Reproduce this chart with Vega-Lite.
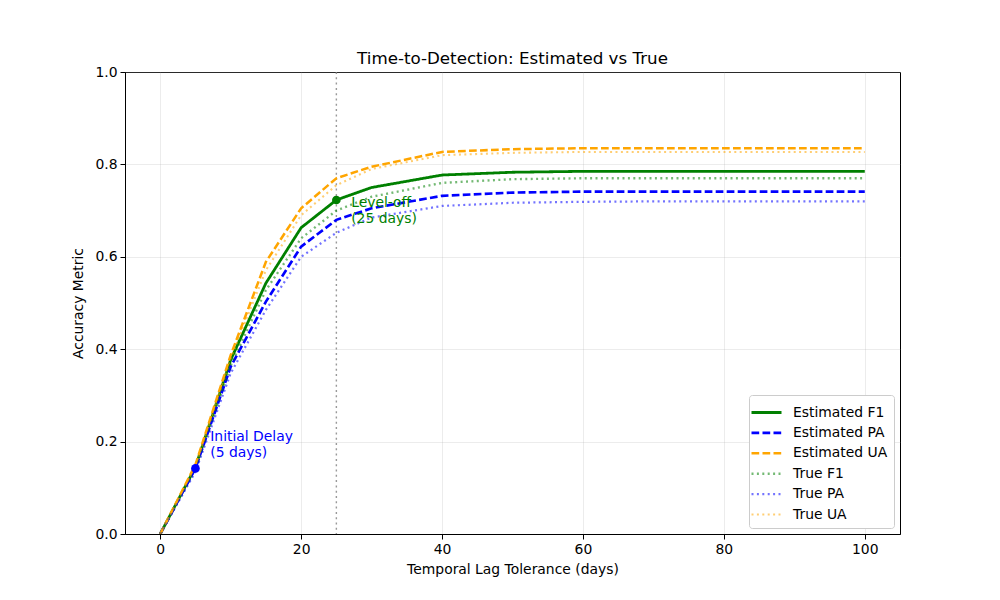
{
  "$schema": "https://vega.github.io/schema/vega-lite/v6.json",
  "autosize": {"type": "none"},
  "width": 775,
  "height": 462,
  "padding": {"left": 125, "top": 72, "right": 100, "bottom": 66},
  "background": "white",
  "config": {
    "font": "DejaVu Sans",
    "view": {"stroke": "black", "strokeWidth": 1},
    "axis": {
      "labelFont": "DejaVu Sans",
      "titleFont": "DejaVu Sans",
      "labelFontSize": 13.9,
      "titleFontSize": 13.9,
      "labelColor": "black",
      "titleColor": "black",
      "titleFontWeight": "normal",
      "domainColor": "black",
      "tickColor": "black",
      "tickSize": 5,
      "gridColor": "#b0b0b0",
      "gridOpacity": 0.3,
      "gridWidth": 0.8,
      "labelPadding": 3
    }
  },
  "title": {
    "text": "Time-to-Detection: Estimated vs True",
    "fontSize": 16.7,
    "fontWeight": "normal",
    "font": "DejaVu Sans",
    "color": "black",
    "offset": -3
  },
  "datasets": {
    "curves": [
      {"lag": 0, "series": "Estimated F1", "value": 0.0},
      {"lag": 5, "series": "Estimated F1", "value": 0.145},
      {"lag": 10, "series": "Estimated F1", "value": 0.377},
      {"lag": 15, "series": "Estimated F1", "value": 0.543},
      {"lag": 20, "series": "Estimated F1", "value": 0.663},
      {"lag": 25, "series": "Estimated F1", "value": 0.723},
      {"lag": 30, "series": "Estimated F1", "value": 0.750},
      {"lag": 40, "series": "Estimated F1", "value": 0.777},
      {"lag": 50, "series": "Estimated F1", "value": 0.783},
      {"lag": 60, "series": "Estimated F1", "value": 0.785},
      {"lag": 70, "series": "Estimated F1", "value": 0.785},
      {"lag": 80, "series": "Estimated F1", "value": 0.785},
      {"lag": 90, "series": "Estimated F1", "value": 0.785},
      {"lag": 100, "series": "Estimated F1", "value": 0.785},

      {"lag": 0, "series": "Estimated PA", "value": 0.0},
      {"lag": 5, "series": "Estimated PA", "value": 0.142},
      {"lag": 10, "series": "Estimated PA", "value": 0.362},
      {"lag": 15, "series": "Estimated PA", "value": 0.503},
      {"lag": 20, "series": "Estimated PA", "value": 0.622},
      {"lag": 25, "series": "Estimated PA", "value": 0.680},
      {"lag": 30, "series": "Estimated PA", "value": 0.705},
      {"lag": 40, "series": "Estimated PA", "value": 0.732},
      {"lag": 50, "series": "Estimated PA", "value": 0.739},
      {"lag": 60, "series": "Estimated PA", "value": 0.741},
      {"lag": 70, "series": "Estimated PA", "value": 0.741},
      {"lag": 80, "series": "Estimated PA", "value": 0.741},
      {"lag": 90, "series": "Estimated PA", "value": 0.741},
      {"lag": 100, "series": "Estimated PA", "value": 0.741},

      {"lag": 0, "series": "Estimated UA", "value": 0.0},
      {"lag": 5, "series": "Estimated UA", "value": 0.150},
      {"lag": 10, "series": "Estimated UA", "value": 0.387},
      {"lag": 15, "series": "Estimated UA", "value": 0.589},
      {"lag": 20, "series": "Estimated UA", "value": 0.705},
      {"lag": 25, "series": "Estimated UA", "value": 0.770},
      {"lag": 30, "series": "Estimated UA", "value": 0.795},
      {"lag": 40, "series": "Estimated UA", "value": 0.827},
      {"lag": 50, "series": "Estimated UA", "value": 0.833},
      {"lag": 60, "series": "Estimated UA", "value": 0.835},
      {"lag": 70, "series": "Estimated UA", "value": 0.835},
      {"lag": 80, "series": "Estimated UA", "value": 0.835},
      {"lag": 90, "series": "Estimated UA", "value": 0.835},
      {"lag": 100, "series": "Estimated UA", "value": 0.835},

      {"lag": 0, "series": "True F1", "value": 0.0},
      {"lag": 5, "series": "True F1", "value": 0.140},
      {"lag": 10, "series": "True F1", "value": 0.365},
      {"lag": 15, "series": "True F1", "value": 0.528},
      {"lag": 20, "series": "True F1", "value": 0.640},
      {"lag": 25, "series": "True F1", "value": 0.700},
      {"lag": 30, "series": "True F1", "value": 0.730},
      {"lag": 40, "series": "True F1", "value": 0.760},
      {"lag": 50, "series": "True F1", "value": 0.768},
      {"lag": 60, "series": "True F1", "value": 0.770},
      {"lag": 70, "series": "True F1", "value": 0.770},
      {"lag": 80, "series": "True F1", "value": 0.770},
      {"lag": 90, "series": "True F1", "value": 0.770},
      {"lag": 100, "series": "True F1", "value": 0.770},

      {"lag": 0, "series": "True PA", "value": 0.0},
      {"lag": 5, "series": "True PA", "value": 0.135},
      {"lag": 10, "series": "True PA", "value": 0.348},
      {"lag": 15, "series": "True PA", "value": 0.485},
      {"lag": 20, "series": "True PA", "value": 0.600},
      {"lag": 25, "series": "True PA", "value": 0.652},
      {"lag": 30, "series": "True PA", "value": 0.685},
      {"lag": 40, "series": "True PA", "value": 0.710},
      {"lag": 50, "series": "True PA", "value": 0.717},
      {"lag": 60, "series": "True PA", "value": 0.719},
      {"lag": 70, "series": "True PA", "value": 0.720},
      {"lag": 80, "series": "True PA", "value": 0.720},
      {"lag": 90, "series": "True PA", "value": 0.720},
      {"lag": 100, "series": "True PA", "value": 0.720},

      {"lag": 0, "series": "True UA", "value": 0.0},
      {"lag": 5, "series": "True UA", "value": 0.148},
      {"lag": 10, "series": "True UA", "value": 0.380},
      {"lag": 15, "series": "True UA", "value": 0.571},
      {"lag": 20, "series": "True UA", "value": 0.690},
      {"lag": 25, "series": "True UA", "value": 0.755},
      {"lag": 30, "series": "True UA", "value": 0.790},
      {"lag": 40, "series": "True UA", "value": 0.820},
      {"lag": 50, "series": "True UA", "value": 0.825},
      {"lag": 60, "series": "True UA", "value": 0.827},
      {"lag": 70, "series": "True UA", "value": 0.827},
      {"lag": 80, "series": "True UA", "value": 0.827},
      {"lag": 90, "series": "True UA", "value": 0.827},
      {"lag": 100, "series": "True UA", "value": 0.827}
    ],
    "markers": [
      {"lag": 5, "value": 0.142, "kind": "Initial Delay", "label": "Initial Delay\n(5 days)", "lagText": 7.1, "valueText": 0.226},
      {"lag": 25, "value": 0.723, "kind": "Level-off", "label": "Level-off\n(25 days)", "lagText": 27.1, "valueText": 0.732}
    ],
    "cutoff": [{"lag": 25}]
  },
  "layer": [
    {
      "data": {"name": "cutoff"},
      "mark": {"type": "rule", "color": "gray", "strokeWidth": 1.4, "strokeDash": [2, 3.3], "opacity": 0.8},
      "encoding": {
        "x": {"field": "lag", "type": "quantitative", "scale": {"domain": [-5, 105]}}
      }
    },
    {
      "data": {"name": "curves"},
      "mark": {"type": "line", "clip": true},
      "encoding": {
        "x": {
          "field": "lag",
          "type": "quantitative",
          "scale": {"domain": [-5, 105], "nice": false, "zero": false},
          "axis": {"values": [0, 20, 40, 60, 80, 100], "title": "Temporal Lag Tolerance (days)", "titlePadding": 7, "grid": true}
        },
        "y": {
          "field": "value",
          "type": "quantitative",
          "scale": {"domain": [0, 1], "nice": false},
          "axis": {"values": [0, 0.2, 0.4, 0.6, 0.8, 1.0], "format": ".1f", "title": "Accuracy Metric", "titlePadding": 9, "grid": true}
        },
        "color": {
          "field": "series",
          "type": "nominal",
          "title": null,
          "scale": {
            "domain": ["Estimated F1", "Estimated PA", "Estimated UA", "True F1", "True PA", "True UA"],
            "range": ["#008000", "#0000ff", "#ffa500", "rgba(0,128,0,0.55)", "rgba(0,0,255,0.55)", "rgba(255,165,0,0.55)"]
          },
          "legend": {
            "orient": "none",
            "legendX": 624,
            "legendY": 323,
            "symbolType": "M-1.5,0H1.5",
            "symbolSize": 400,
            "labelFontSize": 13.9,
            "labelFont": "DejaVu Sans",
            "labelColor": "black",
            "labelOffset": 15,
            "rowPadding": 1.4,
            "padding": 6,
            "fillColor": "white",
            "strokeColor": "#cccccc",
            "cornerRadius": 3
          }
        },
        "strokeDash": {
          "field": "series",
          "type": "nominal",
          "title": null,
          "scale": {
            "domain": ["Estimated F1", "Estimated PA", "Estimated UA", "True F1", "True PA", "True UA"],
            "range": [[1, 0], [7.7, 3.3], [7.7, 3.3], [2, 3.4], [2, 3.4], [2, 3.4]]
          }
        },
        "strokeWidth": {
          "field": "series",
          "type": "nominal",
          "title": null,
          "scale": {
            "domain": ["Estimated F1", "Estimated PA", "Estimated UA", "True F1", "True PA", "True UA"],
            "range": [2.8, 2.1, 2.1, 2.1, 2.1, 2.1]
          }
        }
      }
    },
    {
      "data": {"name": "markers"},
      "transform": [{"filter": "datum.kind === 'Initial Delay'"}],
      "layer": [
        {
          "mark": {"type": "point", "filled": true, "opacity": 1, "size": 75, "color": "#0000ff"},
          "encoding": {
            "x": {"field": "lag", "type": "quantitative"},
            "y": {"field": "value", "type": "quantitative"}
          }
        },
        {
          "mark": {"type": "text", "align": "left", "baseline": "top", "fontSize": 13.9, "lineHeight": 16.5, "lineBreak": "\n", "font": "DejaVu Sans", "color": "#0000ff"},
          "encoding": {
            "x": {"field": "lagText", "type": "quantitative"},
            "y": {"field": "valueText", "type": "quantitative"},
            "text": {"field": "label"}
          }
        }
      ]
    },
    {
      "data": {"name": "markers"},
      "transform": [{"filter": "datum.kind === 'Level-off'"}],
      "layer": [
        {
          "mark": {"type": "point", "filled": true, "opacity": 1, "size": 75, "color": "#008000"},
          "encoding": {
            "x": {"field": "lag", "type": "quantitative"},
            "y": {"field": "value", "type": "quantitative"}
          }
        },
        {
          "mark": {"type": "text", "align": "left", "baseline": "top", "fontSize": 13.9, "lineHeight": 16.5, "lineBreak": "\n", "font": "DejaVu Sans", "color": "#008000"},
          "encoding": {
            "x": {"field": "lagText", "type": "quantitative"},
            "y": {"field": "valueText", "type": "quantitative"},
            "text": {"field": "label"}
          }
        }
      ]
    }
  ]
}
